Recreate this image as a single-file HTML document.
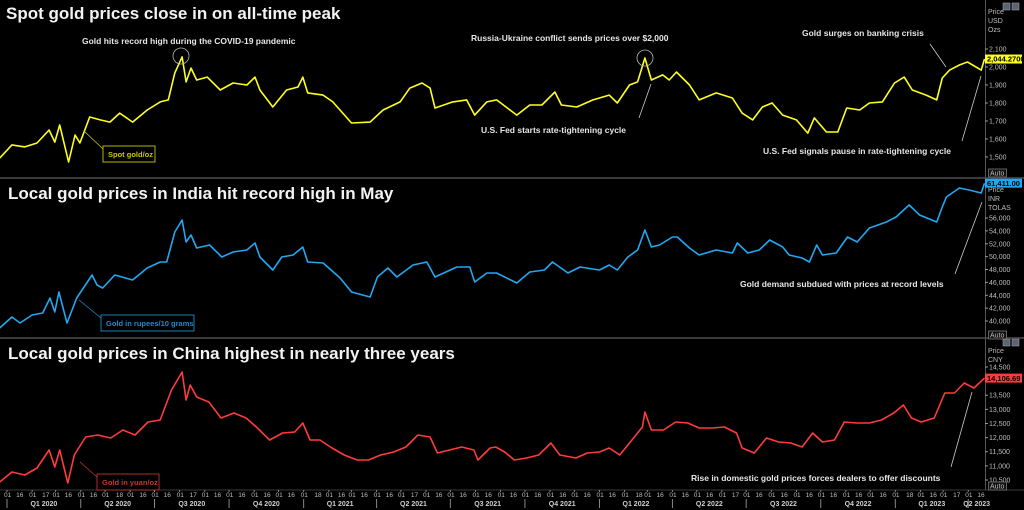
<!DOCTYPE html>
<html><head><meta charset="utf-8"><style>
html,body{margin:0;padding:0;background:#000;}
svg{display:block;font-family:"Liberation Sans",sans-serif;}
.ttl{font-size:17px;font-weight:bold;fill:#f2f2f2;}
.ann{font-size:8.5px;font-weight:bold;fill:#e6e6e6;}
.ax{font-size:7px;fill:#bdbdbd;}
.xt{font-size:6.5px;fill:#bdbdbd;}
.q{font-size:7px;font-weight:bold;fill:#cfcfcf;}
</style></head><body>
<svg id="chart" width="1024" height="510" viewBox="0 0 1024 510">
<rect x="0" y="0" width="1024" height="510" fill="#000"/>
<g id="panels"></g>
</svg>
<script>
// ---------- data ----------
const usdDays=[-9,6,22,37,52,59,65,76,84,90,102,115,127,139,155,173,189,199,207,216,221,227,234,247,263,279,296,306,312,328,345,359,365,371,390,402,425,448,464,485,497,512,522,528,550,567,577,592,604,629,645,660,676,684,703,723,743,753,768,778,787,795,809,817,826,842,854,875,895,907,920,932,944,957,974,988,996,1011,1025,1036,1052,1064,1080,1095,1107,1117,1134,1147,1154,1163,1175,1185,1202,1206];
const usdVals=[1494,1567,1556,1578,1650,1583,1678,1472,1622,1578,1722,1706,1694,1744,1694,1761,1806,1817,1967,2056,1917,1994,1928,1944,1872,1911,1900,1944,1872,1778,1872,1889,1944,1856,1844,1806,1689,1694,1761,1806,1883,1911,1883,1772,1806,1817,1733,1806,1817,1733,1789,1789,1861,1789,1778,1817,1844,1800,1900,1917,2050,1928,1956,1928,1972,1900,1817,1856,1828,1744,1706,1778,1800,1733,1706,1633,1717,1639,1639,1772,1761,1800,1806,1911,1944,1872,1844,1817,1939,1983,2011,2028,1983,2044.27];
const inrDays=[-9,6,16,31,44,53,59,64,74,86,105,111,118,133,155,173,189,197,207,216,221,227,234,250,265,279,296,306,312,328,339,353,365,371,390,411,425,448,457,470,481,501,518,528,555,571,577,592,604,629,645,663,673,692,707,731,743,753,766,778,787,795,805,821,827,842,854,875,895,901,914,928,941,957,965,981,990,999,1006,1023,1037,1049,1064,1085,1097,1113,1126,1147,1154,1159,1175,1187,1202,1206];
const inrVals=[38917,40625,39694,40936,41247,43576,41402,44508,39694,43576,47148,45595,45129,47148,46371,48235,49167,49167,53826,55689,52273,53360,51341,51807,49943,50720,51030,52118,49943,47924,49943,50254,51496,49167,49012,46682,44508,43731,46837,48235,46837,48701,49167,46837,48390,48390,46061,47459,47459,45906,47614,47924,49167,47459,48390,47924,48701,47924,49943,51030,54136,51496,51807,53049,53049,51341,50254,51030,50565,52118,50565,51030,52583,51496,50254,49788,49167,51807,50254,50565,53049,52273,54447,55379,56155,58019,56466,55379,57708,59261,60659,60348,59882,61411];
const cnyDays=[-9,6,22,37,52,59,65,75,83,97,112,128,143,158,174,189,203,216,221,226,234,249,264,280,295,309,324,340,355,365,374,386,401,416,432,446,461,477,492,507,522,531,546,561,576,581,596,603,614,626,641,656,671,682,702,716,731,743,756,771,784,787,795,810,825,840,854,870,885,900,907,922,937,952,967,981,994,1006,1021,1033,1048,1064,1079,1094,1106,1116,1128,1144,1157,1169,1181,1193,1206];
const cnyVals=[10429,10783,10677,10925,11562,10960,11562,10394,11385,12022,12093,11987,12270,12093,12553,12624,13686,14323,13332,13863,13438,13261,12695,12872,12695,12341,11916,12164,12200,12518,11916,11916,11633,11385,11208,11208,11385,11491,11668,12093,12022,11456,11562,11668,11562,11208,11633,11668,11491,11208,11279,11385,11810,11385,11279,11456,11491,11633,11385,11916,12376,12907,12270,12270,12553,12518,12341,12341,12376,12164,11633,11456,11987,11845,11810,11668,12164,11845,11916,12553,12518,12518,12624,12872,13155,12695,12553,12695,13580,13580,13934,13757,14106.69];
const usdTicks=[1500,1600,1700,1800,1900,2000,2100];
const inrTicks=[40000,42000,44000,46000,48000,50000,52000,54000,56000];
const cnyTicks=[10500,11000,11500,12000,12500,13000,13500,14500];
const quarterLabels=["Q1 2020","Q2 2020","Q3 2020","Q4 2020","Q1 2021","Q2 2021","Q3 2021","Q4 2021","Q1 2022","Q2 2022","Q3 2022","Q4 2022","Q1 2023","Q2 2023"];
const midMonthLabels=["16","17","16","16","18","16","16","17","16","16","16","16","18","16","16","16","17","16","16","16","16","16","16","16","16","18","16","16","16","17","16","16","16","16","16","16","18","16","17","16"];

// ---------- scales ----------
const X0=7, PX_PER_DAY=74/91.3;
const x=d=>X0+d*PX_PER_DAY;
const yU=v=>49+(2100-v)*0.18;
const yI=v=>218+(56000-v)/155.3;
const yC=v=>367+(14500-v)/35.4;

const NS="http://www.w3.org/2000/svg";
const g=document.getElementById('panels');
function mk(tag,attrs,parent){const e=document.createElementNS(NS,tag);for(const k in attrs)e.setAttribute(k,attrs[k]);(parent||g).appendChild(e);return e;}

// separators & axis line
let e;
e=mk('line',{x1:0,y1:178,x2:1024,y2:178,stroke:'#3a3a3a','stroke-width':2});


e=mk('line',{x1:0,y1:338,x2:1024,y2:338,stroke:'#3a3a3a','stroke-width':2});


e=mk('line',{x1:0,y1:490,x2:1024,y2:490,stroke:'#3a3a3a','stroke-width':1});


e=mk('line',{x1:985.5,y1:0,x2:985.5,y2:490,stroke:'#555','stroke-width':1});



function txt(s,attrs,name){const t=mk('text',attrs);t.textContent=s;return t;}

// titles
txt("Spot gold prices close in on all-time peak",{x:6,y:19,class:'ttl'},'title-spot-gold');
txt("Local gold prices in India hit record high in May",{x:8,y:199,class:'ttl'},'title-india');
txt("Local gold prices in China highest in nearly three years",{x:8,y:359,class:'ttl'},'title-china');

// y axes
function axis(ticks,ys,unitLines,top,autoY,name){
  ticks.forEach(v=>{const yy=ys(v);
    const l=mk('line',{x1:985,y1:yy,x2:988,y2:yy,stroke:'#999'});
    
    
    txt(v.toLocaleString('en-US'),{x:989,y:yy+2.5,class:'ax'},name+'-tick-label');
  });
  unitLines.forEach((s,i)=>txt(s,{x:988,y:top+i*9,class:'ax',fill:'#ddd'},name+'-unit'));
  const r=mk('rect',{x:988.5,y:autoY,width:18,height:8,fill:'#111',stroke:'#777','stroke-width':0.8});
  
  
  txt("Auto",{x:990,y:autoY+6.5,class:'ax',fill:'#ddd'},name+'-auto-label');
}
axis(usdTicks,yU,["Price","USD","Ozs"],14,169,'usd-axis');
axis(inrTicks,yI,["Price","INR","TOLAS"],192,331,'inr-axis');
axis(cnyTicks,yC,["Price","CNY"],353,482,'cny-axis');

// window buttons
[[1003,3],[1012,3],[1003,339],[1012,339]].forEach(p=>{
  const b=mk('rect',{x:p[0],y:p[1],width:7,height:7,fill:'#5a6478',stroke:'#999','stroke-width':0.6});
  
  
});

// series
function series(days,vals,ys,color,name){
  let d='';const n=Math.min(days.length,vals.length);
  for(let i=0;i<n;i++){d+=(i?'L':'M')+x(days[i]).toFixed(1)+' '+ys(vals[i]).toFixed(1);}
  const p=mk('path',{d:d,fill:'none',stroke:color,'stroke-width':1.6,'stroke-linejoin':'round'});
  
  
}
series(usdDays,usdVals,yU,'#ffff1e','spot-gold-line');
series(inrDays,inrVals,yI,'#21a8f0','india-gold-line');
series(cnyDays,cnyVals,yC,'#ff3b3b','china-gold-line');

// value tags
function tag(v,ys,fill,label,name){const yy=ys(v);
  const r=mk('rect',{x:985,y:yy-4.5,width:37,height:9,fill:fill});
  
  
  txt(label,{x:987,y:yy+2.7,style:'font-size:7.5px;font-weight:bold',fill:'#000'},name+'-text');
}
tag(usdVals[usdVals.length-1],yU,'#ffff1e','2,044.2700','usd-last-value');
tag(inrVals[inrVals.length-1],yI,'#21a8f0','61,411.00','inr-last-value');
tag(cnyVals[cnyVals.length-1],yC,'#ff3b3b','14,106.69','cny-last-value');

// annotations
function line(x1,y1,x2,y2,col,name){const l=mk('line',{x1,y1,x2,y2,stroke:col,'stroke-width':0.8});}
txt("Gold hits record high during the COVID-19 pandemic",{x:82,y:44,class:'ann'},'annotation-covid-high');
e=mk('circle',{cx:181,cy:56,r:8,fill:'none',stroke:'#bbb','stroke-width':0.8});


txt("Russia-Ukraine conflict sends prices over $2,000",{x:471,y:41,class:'ann'},'annotation-russia-ukraine');
e=mk('circle',{cx:645,cy:58,r:8,fill:'none',stroke:'#bbb','stroke-width':0.8});


txt("Gold surges on banking crisis",{x:802,y:36,class:'ann'},'annotation-banking-crisis');
line(930,44,946,67,'#ccc','banking-crisis-leader');
txt("U.S. Fed starts rate-tightening cycle",{x:481,y:133,class:'ann'},'annotation-fed-tightening');
line(639,118,651,84,'#ccc','fed-tightening-leader');
txt("U.S. Fed signals pause in rate-tightening cycle",{x:763,y:154,class:'ann'},'annotation-fed-pause');
line(962,141,981,76,'#ccc','fed-pause-leader');
txt("Gold demand subdued with prices at record levels",{x:740,y:287,class:'ann'},'annotation-india-demand');
line(955,274,982,202,'#ccc','india-demand-leader');
txt("Rise in domestic gold prices forces dealers to offer discounts",{x:691,y:481,class:'ann'},'annotation-china-discounts');
line(951,467,972,392,'#ccc','china-discounts-leader');

// legend boxes
function legend(x0,y0,w,label,col,lx,ly,name){
  line(lx,ly,x0,y0+3,col,name+'-leader');
  const r=mk('rect',{x:x0,y:y0,width:w,height:16,fill:'#000',stroke:col,'stroke-width':0.9});
  
  
  txt(label,{x:x0+5,y:y0+11,style:'font-size:7.5px;font-weight:bold',fill:col},name+'-label');
}
legend(103,146,52,"Spot gold/oz",'#c8c800',84,131,'legend-spot-gold');
legend(101,315,93,"Gold in rupees/10 grams",'#1e8cc8',79,300,'legend-rupees');
legend(97,474,62,"Gold in yuan/oz",'#c83232',80,462,'legend-yuan');

// x axis ticks
const start=new Date(Date.UTC(2020,0,1));
function dayOf(y,m,d){return (Date.UTC(y,m,d)-start)/86400000;}
for(let i=0;i<40;i++){
  const yr=2020+Math.floor(i/12),mo=i%12;
  const d1=dayOf(yr,mo,1);
  const xm=x(d1);
  if(xm<985){
    txt("01",{x:xm-3,y:497,class:'xt'},'x-tick-label');
    const t=mk('line',{x1:xm,y1:490,x2:xm,y2:492,stroke:'#888'});
    
    
  }
  const lab=midMonthLabels[i];
  const xh=x(dayOf(yr,mo,+lab));
  if(xh<982) txt(lab,{x:xh-3,y:497,class:'xt'},'x-tick-label');
}
quarterLabels.forEach((q,i)=>{
  const yr=2020+Math.floor(i/4),mo=(i%4)*3;
  const a=x(dayOf(yr,mo,1)), b=Math.min(x(dayOf(yr,mo+3,1)),985);
  const t=mk('line',{x1:a,y1:499,x2:a,y2:508,stroke:'#888'});
  
  
  txt(q,{x:(a+b)/2,y:506,class:'q','text-anchor':'middle'},'quarter-label');
});
</script>
</body></html>
